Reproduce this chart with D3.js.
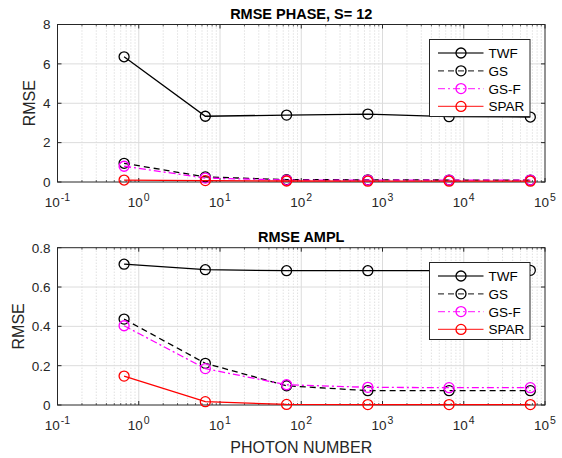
<!DOCTYPE html>
<html><head><meta charset="utf-8">
<script src="https://cdn.jsdelivr.net/npm/d3@7"></script>
<style>body{margin:0;background:#fff}svg{display:block;font-family:"Liberation Sans",Arial,sans-serif}</style>
</head><body><svg id="c" width="562" height="458"></svg>
<script>
const photons = [0.66, 6.6, 66, 660, 6600, 66000];
const seriesNames = ["TWF", "GS", "GS-F", "SPAR"];
const phaseTWF = [6.36, 3.34, 3.40, 3.45, 3.32, 3.30];
const phaseGS = [0.95, 0.26, 0.12, 0.11, 0.10, 0.10];
const phaseGSF = [0.80, 0.20, 0.10, 0.10, 0.10, 0.10];
const phaseSPAR = [0.10, 0.07, 0.05, 0.04, 0.04, 0.04];
const amplTWF = [0.716, 0.688, 0.683, 0.683, 0.683, 0.685];
const amplGS = [0.437, 0.212, 0.098, 0.073, 0.073, 0.073];
const amplGSF = [0.403, 0.185, 0.103, 0.090, 0.088, 0.088];
const amplSPAR = [0.147, 0.017, 0.003, 0.002, 0.002, 0.002];
const xTicks = [0.1, 1, 10, 100, 1000, 10000, 100000];
const phaseYTicks = [0, 2, 4, 6, 8];
const amplYTicks = [0, 0.2, 0.4, 0.6, 0.8];

const styles = [
  {color: "#000000", dash: null},
  {color: "#000000", dash: "6,4"},
  {color: "#ff00ff", dash: "7,3,2,3"},
  {color: "#ff0000", dash: null}
];
const svg = d3.select("#c");
const axColor = "#262626";
const L = 57.5, R = 545;

function panel(top, bottom, yMax, yTicks, data, title, yfmt, showXLabel, legendTop, yLabelX) {
  const x = d3.scaleLog().domain([0.1, 100000]).range([L, R]);
  const y = d3.scaleLinear().domain([0, yMax]).range([bottom, top]);
  const g = svg.append("g");
  const minors = [];
  for (let e = -1; e < 5; e++) for (let m = 2; m <= 9; m++) minors.push(m * Math.pow(10, e));
  g.selectAll(".mg").data(minors).enter().append("line")
    .attr("x1", d => x(d)).attr("x2", d => x(d)).attr("y1", top).attr("y2", bottom)
    .attr("stroke", "#c8c8c8").attr("stroke-width", 0.8).attr("stroke-dasharray", "1,2");
  g.selectAll(".Mg").data(xTicks.slice(1, -1)).enter().append("line")
    .attr("x1", d => x(d)).attr("x2", d => x(d)).attr("y1", top).attr("y2", bottom)
    .attr("stroke", "#dcdcdc").attr("stroke-width", 1);
  g.selectAll(".Mgy").data(yTicks.slice(1, -1)).enter().append("line")
    .attr("x1", L).attr("x2", R).attr("y1", d => y(d)).attr("y2", d => y(d))
    .attr("stroke", "#dcdcdc").attr("stroke-width", 1);
  const ax = g.append("g").attr("transform", `translate(0,${bottom})`)
    .call(d3.axisBottom(x).tickValues(xTicks).tickSize(0).tickFormat(""));
  ax.select(".domain").remove();
  const ay = g.append("g").attr("transform", `translate(${L},0)`)
    .call(d3.axisLeft(y).tickValues(yTicks).tickSize(0).tickFormat(yfmt));
  ay.select(".domain").remove();
  ay.selectAll("text").attr("fill", axColor).attr("font-size", 13.5).attr("x", -7)
    .attr("font-family", "'Liberation Sans',Arial,sans-serif");
  xTicks.forEach(t => {
    const e = Math.round(Math.log10(t));
    const tx = g.append("text").attr("x", x(t)).attr("y", bottom + 25)
      .attr("text-anchor", "middle").attr("fill", axColor).attr("font-size", 13.5);
    tx.append("tspan").text("10");
    tx.append("tspan").attr("dy", -6).attr("font-size", 10.5).attr("dx", 1).text(e);
  });
  const tl = 4;
  xTicks.forEach(t => {
    g.append("line").attr("x1", x(t)).attr("x2", x(t)).attr("y1", bottom).attr("y2", bottom - tl).attr("stroke", axColor);
    g.append("line").attr("x1", x(t)).attr("x2", x(t)).attr("y1", top).attr("y2", top + tl).attr("stroke", axColor);
  });
  minors.forEach(t => {
    g.append("line").attr("x1", x(t)).attr("x2", x(t)).attr("y1", bottom).attr("y2", bottom - 2).attr("stroke", axColor).attr("stroke-width", 0.7);
    g.append("line").attr("x1", x(t)).attr("x2", x(t)).attr("y1", top).attr("y2", top + 2).attr("stroke", axColor).attr("stroke-width", 0.7);
  });
  yTicks.forEach(t => {
    g.append("line").attr("x1", L).attr("x2", L + tl).attr("y1", y(t)).attr("y2", y(t)).attr("stroke", axColor);
    g.append("line").attr("x1", R).attr("x2", R - tl).attr("y1", y(t)).attr("y2", y(t)).attr("stroke", axColor);
  });
  g.append("rect").attr("x", L).attr("y", top).attr("width", R - L).attr("height", bottom - top)
    .attr("fill", "none").attr("stroke", axColor).attr("stroke-width", 1);
  const line = d3.line().x((d, i) => x(photons[i])).y(d => y(d));
  data.forEach((vals, k) => {
    const st = styles[k];
    g.append("path").datum(vals).attr("d", line).attr("fill", "none")
      .attr("stroke", st.color).attr("stroke-width", 1.3)
      .attr("stroke-dasharray", st.dash);
    g.selectAll(null).data(vals).enter().append("circle")
      .attr("cx", (d, i) => x(photons[i])).attr("cy", d => y(d)).attr("r", 5)
      .attr("fill", "none").attr("stroke", st.color).attr("stroke-width", 1.3);
  });
  svg.append("text").attr("x", (L + R) / 2).attr("y", top - 6).attr("text-anchor", "middle")
    .attr("font-weight", "bold").attr("font-size", 14.5).attr("fill", "#000").text(title);
  svg.append("text").attr("transform", `translate(${yLabelX},${(top + bottom) / 2}) rotate(-90)`)
    .attr("text-anchor", "middle").attr("font-size", 16).attr("fill", axColor).text("RMSE");
  if (showXLabel) {
    svg.append("text").attr("x", (L + R) / 2).attr("y", 453).attr("text-anchor", "middle")
      .attr("font-size", 16).attr("fill", axColor).text("PHOTON NUMBER");
  }
  const lg = svg.append("g");
  const lx = 429.5, lw = 100.5, lh = 77;
  lg.append("rect").attr("x", lx).attr("y", legendTop).attr("width", lw).attr("height", lh)
    .attr("fill", "#fff").attr("stroke", axColor).attr("stroke-width", 1);
  seriesNames.forEach((nm, k) => {
    const st = styles[k];
    const yy = legendTop + 13.5 + k * 17.8;
    lg.append("line").attr("x1", lx + 8.5).attr("x2", lx + 54).attr("y1", yy).attr("y2", yy)
      .attr("stroke", st.color).attr("stroke-width", 1.3).attr("stroke-dasharray", st.dash).attr("opacity", 0.75);
    lg.append("circle").attr("cx", lx + 31.5).attr("cy", yy).attr("r", 5)
      .attr("fill", "none").attr("stroke", st.color).attr("stroke-width", 1.3);
    lg.append("text").attr("x", lx + 59).attr("y", yy + 5).attr("font-size", 13.5)
      .attr("fill", "#000").text(nm);
  });
}

panel(24.5, 182, 8, phaseYTicks, [phaseTWF, phaseGS, phaseGSF, phaseSPAR], "RMSE PHASE, S= 12", d3.format("d"), false, 39.5, 35);
panel(247.7, 405, 0.8, amplYTicks, [amplTWF, amplGS, amplGSF, amplSPAR], "RMSE AMPL", d => d === 0 ? "0" : d3.format(".1f")(d), true, 262.5, 24);
</script></body></html>
